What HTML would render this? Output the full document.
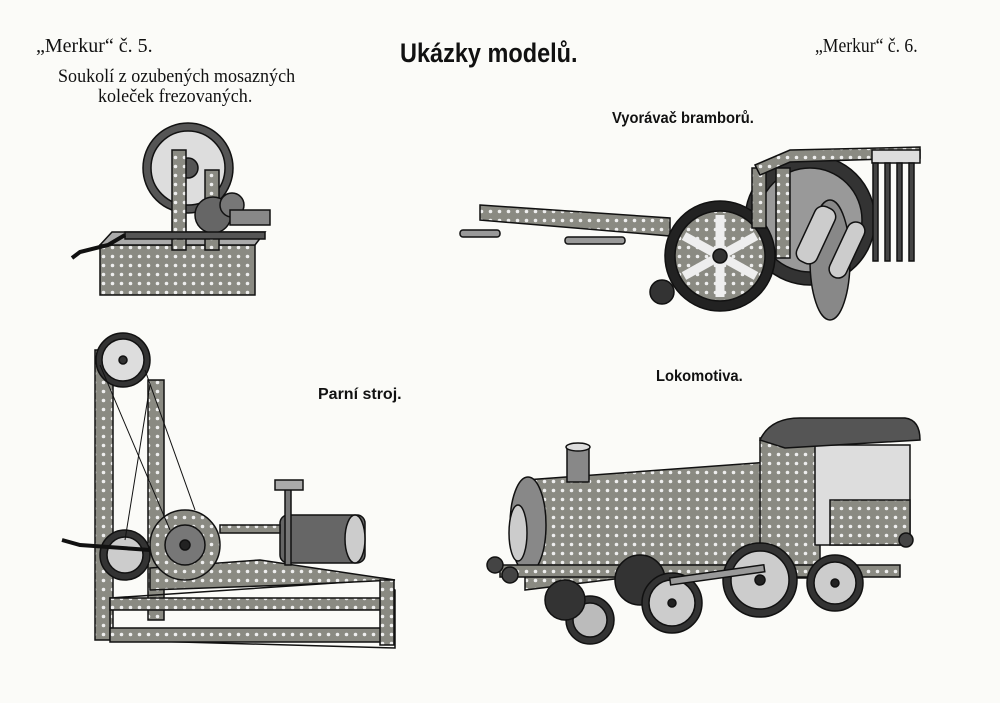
<!DOCTYPE html>
<html><head><meta charset="utf-8"><style>
html,body{margin:0;padding:0;}
body{width:1000px;height:703px;background:#fbfbf8;position:relative;overflow:hidden;}
.t{position:absolute;white-space:nowrap;color:#111;transform-origin:0 0;}
.serif{font-family:"Liberation Serif",serif;}
.sans{font-family:"Liberation Sans",sans-serif;font-weight:bold;}
svg{position:absolute;left:0;top:0;}
</style></head><body>
<div class="t serif" style="left:36px;top:35px;font-size:20px;transform:scaleX(1.0)">„Merkur“ č. 5.</div>
<div class="t sans" style="left:400px;top:38px;font-size:27px;transform:scaleX(.87)">Ukázky modelů.</div>
<div class="t serif" style="left:815px;top:35px;font-size:20px;transform:scaleX(.88)">„Merkur“ č. 6.</div>
<div class="t serif" style="left:58px;top:66px;font-size:19px;transform:scaleX(.95)">Soukolí z ozubených mosazných</div>
<div class="t serif" style="left:98px;top:86px;font-size:19px;transform:scaleX(.95)">koleček frezovaných.</div>
<div class="t sans" style="left:612px;top:110px;font-size:16px;transform:scaleX(.92)">Vyorávač bramborů.</div>
<div class="t sans" style="left:318px;top:386px;font-size:16px;transform:scaleX(1.0)">Parní stroj.</div>
<div class="t sans" style="left:656px;top:368px;font-size:16px;transform:scaleX(.92)">Lokomotiva.</div>

<svg width="1000" height="703" viewBox="0 0 1000 703">
<defs>
<pattern id="holes" width="9" height="9" patternUnits="userSpaceOnUse">
<rect width="9" height="9" fill="#8a8a82"/><circle cx="4.5" cy="4.5" r="1.8" fill="#eee"/>
</pattern>
</defs>
<g stroke="#111" stroke-width="1.5">
<!-- gear model -->
<rect x="100" y="245" width="155" height="50" fill="url(#holes)"/>
<polygon points="100,245 255,245 265,232 112,232" fill="#aaa"/>
<circle cx="188" cy="168" r="45" fill="#555"/>
<circle cx="188" cy="168" r="37" fill="#ddd"/>
<circle cx="188" cy="168" r="10" fill="#555"/>
<rect x="172" y="150" width="14" height="100" fill="url(#holes)"/>
<rect x="205" y="170" width="14" height="80" fill="url(#holes)"/>
<circle cx="213" cy="215" r="18" fill="#666"/>
<circle cx="232" cy="205" r="12" fill="#777"/>
<rect x="125" y="232" width="140" height="7" fill="#555"/>
<path d="M125,235 L108,245 L80,252 L72,258" fill="none" stroke-width="4"/>
<rect x="230" y="210" width="40" height="15" fill="#888"/>
<!-- potato digger -->
<polygon points="480,205 670,218 670,236 480,220" fill="url(#holes)"/>
<rect x="460" y="230" width="40" height="7" rx="3" fill="#999"/>
<rect x="565" y="237" width="60" height="7" rx="3" fill="#999"/>
<circle cx="810" cy="220" r="65" fill="#333"/>
<circle cx="810" cy="220" r="52" fill="#999"/>
<circle cx="720" cy="256" r="55" fill="#222"/>
<circle cx="720" cy="256" r="45" fill="url(#holes)"/>
<g stroke="#eee" stroke-width="9"><line x1="720" y1="215" x2="720" y2="297"/><line x1="684" y1="236" x2="756" y2="276"/><line x1="684" y1="276" x2="756" y2="236"/></g>
<circle cx="720" cy="256" r="7" fill="#333"/>
<rect x="776" y="168" width="14" height="90" fill="url(#holes)"/>
<rect x="752" y="168" width="14" height="60" fill="url(#holes)"/>
<polygon points="755,165 790,150 920,147 920,158 790,162 760,175" fill="url(#holes)"/>
<rect x="872" y="150" width="48" height="13" fill="#ddd"/>
<g fill="#444"><rect x="873" y="163" width="5" height="98"/><rect x="885" y="163" width="5" height="98"/><rect x="897" y="163" width="5" height="98"/><rect x="909" y="163" width="5" height="98"/></g>
<ellipse cx="830" cy="260" rx="20" ry="60" fill="#888"/>
<rect x="805" y="205" width="22" height="60" rx="9" fill="#ccc" transform="rotate(25 816 235)"/>
<rect x="838" y="220" width="18" height="60" rx="9" fill="#ccc" transform="rotate(25 847 250)"/>
<circle cx="662" cy="292" r="12" fill="#333"/>
<!-- steam engine -->
<rect x="95" y="350" width="18" height="290" fill="url(#holes)"/>
<rect x="148" y="380" width="16" height="240" fill="url(#holes)"/>
<polygon points="110,598 380,580 395,590 395,648 110,640" fill="none"/>
<rect x="110" y="598" width="280" height="12" fill="url(#holes)"/>
<rect x="110" y="628" width="280" height="14" fill="url(#holes)"/>
<polygon points="150,568 260,560 395,580 290,585 150,590" fill="url(#holes)"/>
<rect x="380" y="580" width="14" height="65" fill="url(#holes)"/>
<circle cx="123" cy="360" r="27" fill="#333"/><circle cx="123" cy="360" r="21" fill="#ddd"/><circle cx="123" cy="360" r="4" fill="#333"/>
<circle cx="125" cy="555" r="25" fill="#333"/><circle cx="125" cy="555" r="18" fill="#ccc"/>
<circle cx="185" cy="545" r="35" fill="url(#holes)"/><circle cx="185" cy="545" r="20" fill="#777"/><circle cx="185" cy="545" r="5" fill="#222"/>
<line x1="100" y1="365" x2="170" y2="530" stroke-width="1"/><line x1="150" y1="385" x2="125" y2="540" stroke-width="1"/><line x1="145" y1="370" x2="195" y2="510" stroke-width="1"/>
<rect x="280" y="515" width="85" height="48" rx="8" fill="#666"/>
<ellipse cx="355" cy="539" rx="10" ry="24" fill="#ccc"/>
<rect x="285" y="485" width="6" height="80" fill="#777"/>
<rect x="275" y="480" width="28" height="10" fill="#aaa"/>
<rect x="220" y="525" width="60" height="8" fill="url(#holes)"/>
<path d="M150,550 L80,545 L62,540" fill="none" stroke-width="4"/>
<!-- locomotive -->
<polygon points="525,480 770,462 770,560 525,590" fill="url(#holes)"/>
<rect x="760" y="438" width="60" height="140" fill="url(#holes)"/>
<rect x="815" y="445" width="95" height="100" fill="#ddd"/>
<rect x="830" y="500" width="80" height="45" fill="url(#holes)"/>
<path d="M760,440 Q770,418 800,418 L905,418 Q920,420 920,440 L785,448 Z" fill="#555"/>
<ellipse cx="528" cy="525" rx="18" ry="48" fill="#888"/>
<ellipse cx="518" cy="533" rx="9" ry="28" fill="#ccc"/>
<rect x="567" y="447" width="22" height="35" fill="#888"/>
<ellipse cx="578" cy="447" rx="12" ry="4" fill="#ddd"/>
<rect x="500" y="565" width="400" height="12" fill="url(#holes)"/>
<circle cx="590" cy="620" r="24" fill="#333"/><circle cx="590" cy="620" r="17" fill="#bbb"/>
<circle cx="565" cy="600" r="20" fill="#333"/>
<circle cx="640" cy="580" r="25" fill="#333"/>
<circle cx="672" cy="603" r="30" fill="#333"/><circle cx="672" cy="603" r="23" fill="#ccc"/><circle cx="672" cy="603" r="4" fill="#222"/>
<circle cx="760" cy="580" r="37" fill="#333"/><circle cx="760" cy="580" r="29" fill="#ccc"/><circle cx="760" cy="580" r="5" fill="#222"/>
<circle cx="835" cy="583" r="28" fill="#333"/><circle cx="835" cy="583" r="21" fill="#ccc"/><circle cx="835" cy="583" r="4" fill="#222"/>
<rect x="670" y="578" width="95" height="7" fill="#999" transform="rotate(-8 670 580)"/>
<circle cx="495" cy="565" r="8" fill="#444"/><circle cx="510" cy="575" r="8" fill="#444"/>
<circle cx="906" cy="540" r="7" fill="#444"/>
</g>
</svg>
</body></html>
